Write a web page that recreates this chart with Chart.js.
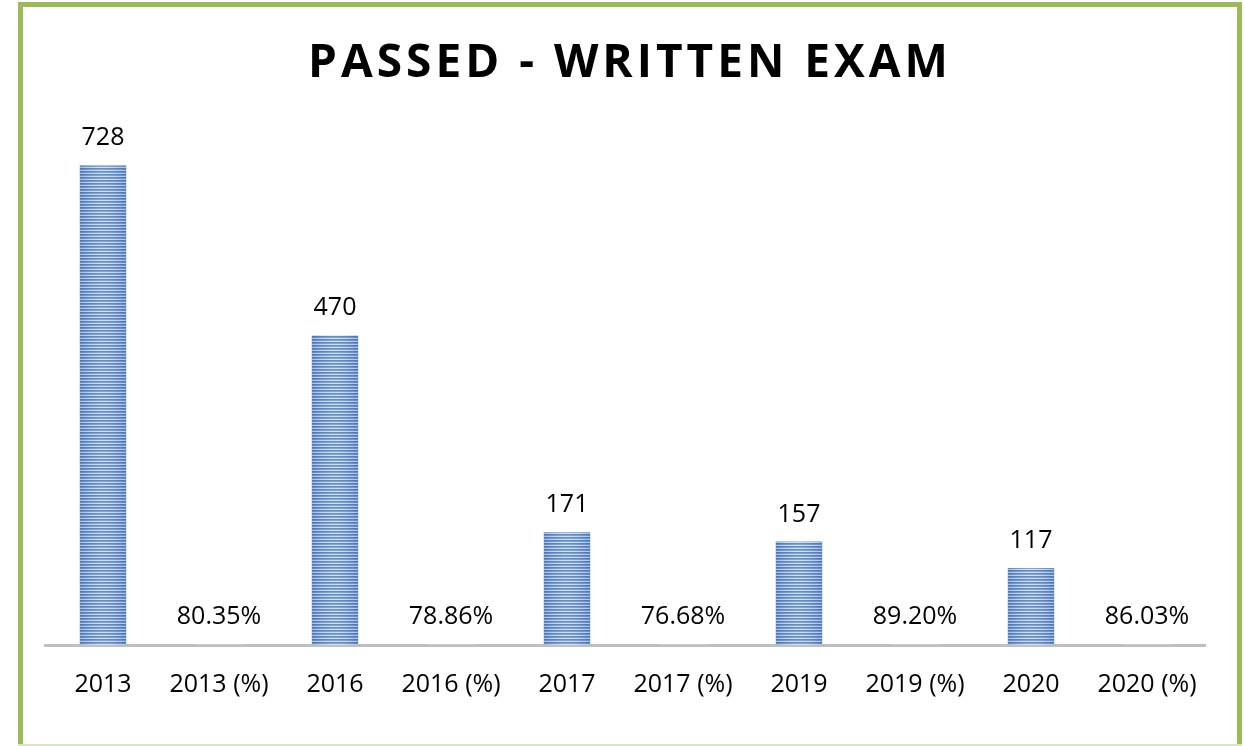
<!DOCTYPE html>
<html>
<head>
<meta charset="utf-8">
<script src="https://cdn.jsdelivr.net/npm/chart.js@4.4.0/dist/chart.umd.min.js"></script>
<style>
  html, body { margin: 0; padding: 0; background: #ffffff; overflow: hidden; }
  #wrap { position: absolute; left: 0; top: 0; width: 1245px; height: 746px; }
  #frame { position: absolute; left: 18px; top: 2px; width: 1214px; height: 760px;
           border: 5px solid #9BBB59; pointer-events: none; box-sizing: content-box; }
  #bottomline { position: absolute; left: 18px; top: 744px; width: 1224px; height: 2px; background: #d7e4bd; }
</style>
</head>
<body>
<div id="wrap">
  <canvas id="c" width="1245" height="746"></canvas>
  <div id="frame"></div>
  <div id="bottomline"></div>
</div>
<script>
const chartTitle = 'PASSED - WRITTEN EXAM';
const years = ['2013', '2016', '2017', '2019', '2020'];
const passedCounts = [728, 470, 171, 157, 117];
const passRates = [80.35, 78.86, 76.68, 89.20, 86.03];

// Build interleaved categories: year, year (%)
const categories = [];
const values = [];
const valueLabels = [];
years.forEach((y, i) => {
  categories.push(y);
  values.push(passedCounts[i]);
  valueLabels.push(String(passedCounts[i]));
  categories.push(y + ' (%)');
  values.push(passRates[i] / 100);
  valueLabels.push(passRates[i].toFixed(2) + '%');
});

const FONT = '"Open Sans", "Liberation Sans", sans-serif';

function makeStripePattern(ctx) {
  const p = document.createElement('canvas');
  p.width = 4; p.height = 3;
  const pc = p.getContext('2d');
  pc.fillStyle = '#4A7BBE'; pc.fillRect(0, 0, 4, 1);
  pc.fillStyle = '#6E95CE'; pc.fillRect(0, 1, 4, 1);
  pc.fillStyle = '#CCDBF0'; pc.fillRect(0, 2, 4, 1);
  return ctx.createPattern(p, 'repeat');
}

const canvas = document.getElementById('c');
const ctx = canvas.getContext('2d');
const stripe = makeStripePattern(ctx);

const overlayPlugin = {
  id: 'overlay',
  afterDatasetsDraw(chart) {
    const c = chart.ctx;
    const meta = chart.getDatasetMeta(0);
    c.save();
    meta.data.forEach((bar) => {
      const left = bar.x - bar.width / 2;
      const right = bar.x + bar.width / 2;
      const top = Math.min(bar.y, bar.base);
      const h = Math.abs(bar.base - bar.y);
      if (h < 1) return;
      const g = c.createLinearGradient(left, 0, right, 0);
      g.addColorStop(0, 'rgba(60,100,170,0.25)');
      g.addColorStop(0.45, 'rgba(255,255,255,0.15)');
      g.addColorStop(0.55, 'rgba(255,255,255,0.15)');
      g.addColorStop(1, 'rgba(60,100,170,0.25)');
      c.fillStyle = g;
      c.fillRect(left, top, right - left, h);
    });
    c.fillStyle = '#000000';
    c.font = '25px ' + FONT;
    c.textAlign = 'center';
    c.textBaseline = 'alphabetic';
    meta.data.forEach((bar, i) => {
      c.fillText(valueLabels[i], bar.x, bar.y - 20);
    });
    c.restore();
  },
  afterDraw(chart) {
    const c = chart.ctx;
    c.save();
    c.fillStyle = '#000000';
    c.font = 'bold 46px ' + FONT;
    c.textAlign = 'center';
    c.textBaseline = 'alphabetic';
    if ('letterSpacing' in c) c.letterSpacing = '4px';
    c.fillText(chartTitle, 630, 77);
    c.restore();
  }
};

new Chart(canvas, {
  type: 'bar',
  data: {
    labels: categories,
    datasets: [{
      data: values,
      backgroundColor: stripe,
      borderWidth: 0,
      barPercentage: 0.8,
      categoryPercentage: 0.5
    }]
  },
  options: {
    responsive: false,
    animation: false,
    layout: { padding: { left: 45, right: 40, top: 118, bottom: 0 } },
    plugins: { legend: { display: false }, tooltip: { enabled: false }, title: { display: false } },
    scales: {
      x: {
        grid: { display: false, drawTicks: false },
        border: { display: true, color: '#BFBFBF', width: 3 },
        ticks: { color: '#000000', font: { family: FONT, size: 25 }, padding: 25, maxRotation: 0, autoSkip: false },
        afterFit(s) { s.height = 101; }
      },
      y: {
        display: false,
        min: 0,
        max: 800
      }
    }
  },
  plugins: [overlayPlugin]
});
</script>
</body>
</html>
